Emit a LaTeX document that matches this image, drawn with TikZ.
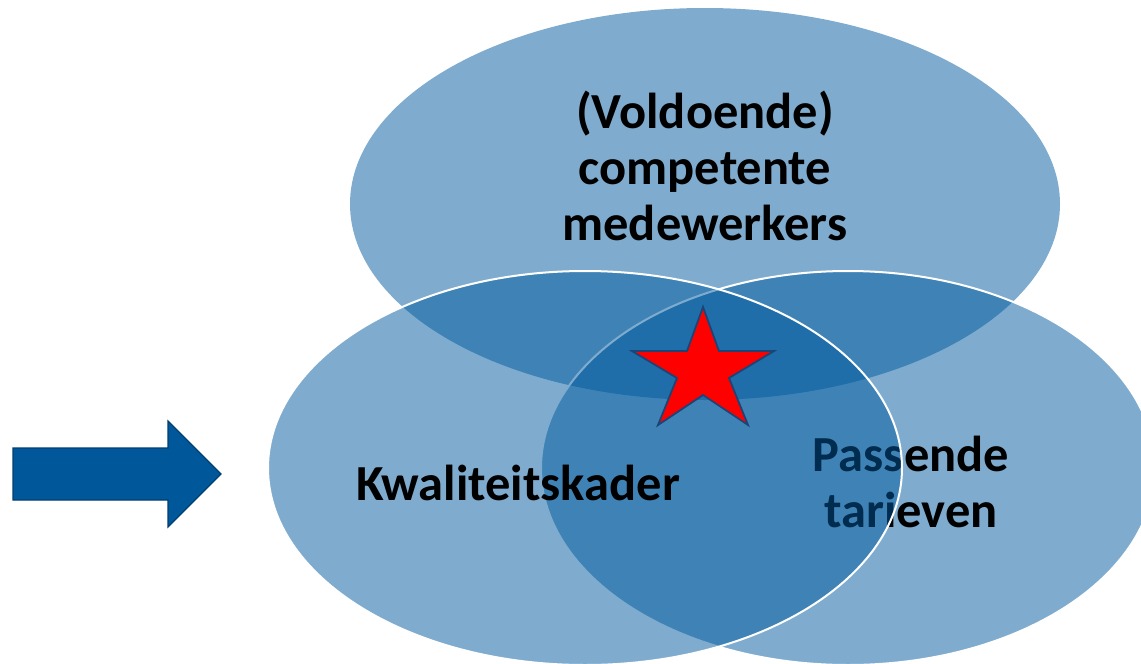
\documentclass[tikz,border=0pt]{standalone}
\usepackage{fontspec}
\setmainfont{Carlito}
\definecolor{venn}{RGB}{0,90,158}
\definecolor{arrowfill}{RGB}{0,88,155}
\definecolor{arrowline}{RGB}{0,62,112}
\definecolor{starline}{RGB}{28,68,118}
\begin{document}
\begin{tikzpicture}[x=1pt,y=-1pt,
  vennfill/.style={fill=venn,fill opacity=0.5},
  vennline/.style={draw=white,line width=2pt},
  lbl/.style={font=\fontsize{50.5}{56}\selectfont\bfseries,align=center,text=black,inner sep=0pt}]
\useasboundingbox (0,0) rectangle (1141,664);
% top circle
\fill[vennfill] (705,204) ellipse [x radius=355, y radius=196];
\node[lbl] (top) at (705,166) {(Voldoende)\\competente\\medewerkers};
% right circle
\fill[vennfill] (848,468) ellipse [x radius=307, y radius=197];
\draw[vennline] (848,468) ellipse [x radius=307, y radius=197];
\node[lbl] (right) at (911,482) {Passende\\tarieven};
% left circle
\fill[vennfill] (585,468) ellipse [x radius=317, y radius=197];
\draw[vennline] (585,468) ellipse [x radius=317, y radius=197];
\node[lbl] (left) at (518,483) {Kwaliteitskader};
% star
\draw[fill=red,draw=starline,line width=1.8pt,line join=miter]
  (703,307) -- (719,351) -- (774,351) -- (729,378) -- (748,425) --
  (703,395) -- (658,425) -- (677,378) -- (632,351) -- (687,351) -- cycle;
% arrow
\draw[fill=arrowfill,draw=arrowline,line width=1.2pt]
  (13,448) -- (168,448) -- (168,421) -- (221,474) -- (168,527) -- (168,500) -- (13,500) -- cycle;
\end{tikzpicture}
\end{document}
